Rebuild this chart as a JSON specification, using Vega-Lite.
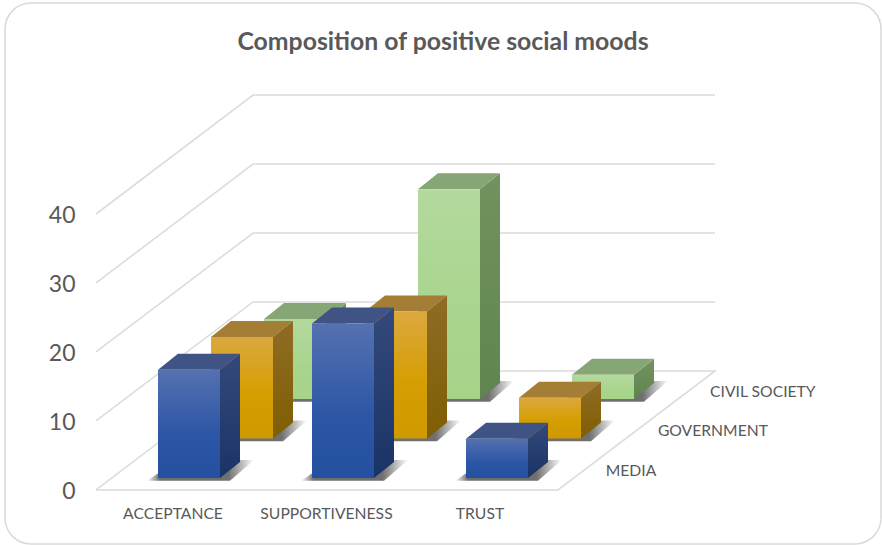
{
"$schema":"https://vega.github.io/schema/vega-lite/v6.json",
"width":876,"height":541,
"padding":{"left":5,"top":3,"right":1,"bottom":1},
"autosize":{"type":"none"},
"background":"#ffffff",
"view":{"stroke":"#d9d9d9","strokeWidth":1.5,"cornerRadius":26,"fill":"#ffffff"},
"title":{"text":"Composition of positive social moods","font":"Lato","fontSize":24.8,"fontWeight":"bold","color":"#595959","anchor":"middle","offset":-52},
"datasets":{
"moods":[
{"category":"ACCEPTANCE","series":"MEDIA","value":15.7},
{"category":"SUPPORTIVENESS","series":"MEDIA","value":22.4},
{"category":"TRUST","series":"MEDIA","value":5.7},
{"category":"ACCEPTANCE","series":"GOVERNMENT","value":14.7},
{"category":"SUPPORTIVENESS","series":"GOVERNMENT","value":18.4},
{"category":"TRUST","series":"GOVERNMENT","value":5.9},
{"category":"ACCEPTANCE","series":"CIVIL SOCIETY","value":11.6},
{"category":"SUPPORTIVENESS","series":"CIVIL SOCIETY","value":30.4},
{"category":"TRUST","series":"CIVIL SOCIETY","value":3.5}
],
"walls":[
{"level":0,"corner":0},{"level":0,"corner":1},{"level":0,"corner":2},{"level":0,"corner":3},{"level":0,"corner":4},
{"level":10,"corner":0},{"level":10,"corner":1},{"level":10,"corner":2},
{"level":20,"corner":0},{"level":20,"corner":1},{"level":20,"corner":2},
{"level":30,"corner":0},{"level":30,"corner":1},{"level":30,"corner":2},
{"level":40,"corner":0},{"level":40,"corner":1},{"level":40,"corner":2}
]
},
"encoding":{
"x":{"field":"px","type":"quantitative","scale":{"domain":[5,881],"nice":false,"zero":false},"axis":null},
"y":{"field":"py","type":"quantitative","scale":{"domain":[-7.83,70.58],"nice":false,"zero":false},
"axis":{"title":null,"values":[0,10,20,30,40],"domain":false,"ticks":false,"grid":false,"orient":"left","labelAlign":"right","labelBaseline":"middle","labelPadding":-70,"labelOffset":2,"labelFont":"Lato","labelFontSize":23,"labelColor":"#595959"}}
},
"layer":[
{"data":{"name":"walls"},
"transform":[
{"calculate":"[96,253,715,558,96][datum.corner]","as":"px"},
{"calculate":"datum.level+[0,119,119,0,0][datum.corner]/6.9","as":"py"}
],
"mark":{"type":"line","stroke":"#dcdcdc","strokeWidth":1.6},
"encoding":{"detail":{"field":"level"},"order":{"field":"corner"}}},
{"data":{"name":"moods"},
"transform":[
{"calculate":"indexof(['ACCEPTANCE','SUPPORTIVENESS','TRUST'],datum.category)","as":"i"},
{"calculate":"indexof(['MEDIA','GOVERNMENT','CIVIL SOCIETY'],datum.series)","as":"s"},
{"calculate":"158+154*datum.i+53*datum.s","as":"sx"},
{"calculate":"(12+39.5*datum.s)/6.9","as":"by"},
{"calculate":"datum.by+datum.value","as":"ty"},
{"calculate":"[0,1]","as":"tt"},
{"flatten":["tt"],"as":["t"]}
],
"layer":[
{"transform":[{"filter":"datum.series==='CIVIL SOCIETY'"}],"layer":[
{"transform":[{"calculate":"datum.sx-11+31*datum.t","as":"px"},{"calculate":"datum.sx+72+24*datum.t","as":"px2"},{"calculate":"datum.by-0.4+3*datum.t","as":"py"}],
"mark":{"type":"area","orient":"horizontal","color":{"gradient":"linear","x1":0,"y1":0,"x2":1,"y2":0,"stops":[{"offset":0,"color":"rgba(50,50,50,0)"},{"offset":0.12,"color":"rgba(50,50,50,0.7)"},{"offset":0.76,"color":"rgba(50,50,50,0.7)"},{"offset":1,"color":"rgba(50,50,50,0)"}]}},
"encoding":{"x2":{"field":"px2"},"detail":{"field":"category"}}},
{"transform":[{"calculate":"datum.sx+62+20*datum.t","as":"px"},{"calculate":"datum.by+2.32*datum.t","as":"py"},{"calculate":"datum.ty+2.32*datum.t","as":"py2"}],
"mark":{"type":"area","orient":"vertical","color":{"gradient":"linear","x1":0,"y1":0,"x2":0,"y2":1,"stops":[{"offset":0,"color":"#72925f"},{"offset":1,"color":"#5f8550"}]}},
"encoding":{"y2":{"field":"py2"},"detail":{"field":"category"}}},
{"transform":[{"calculate":"datum.sx+20*datum.t","as":"px"},{"calculate":"datum.sx+62+20*datum.t","as":"px2"},{"calculate":"datum.ty+2.32*datum.t","as":"py"}],
"mark":{"type":"area","orient":"horizontal","color":"#86a676"},
"encoding":{"x2":{"field":"px2"},"detail":{"field":"category"}}},
{"transform":[{"filter":"datum.t===0"},{"calculate":"datum.sx","as":"px"},{"calculate":"datum.sx+62","as":"px2"},{"calculate":"datum.ty","as":"py"},{"calculate":"datum.by","as":"py2"}],
"mark":{"type":"rect","color":{"gradient":"linear","x1":0,"y1":0,"x2":0,"y2":1,"stops":[{"offset":0,"color":"#b4d99e"},{"offset":0.6,"color":"#a8d58d"},{"offset":1,"color":"#a5d489"}]}},
"encoding":{"x2":{"field":"px2"},"y2":{"field":"py2"}}}
]},
{"transform":[{"filter":"datum.series==='GOVERNMENT'"}],"layer":[
{"transform":[{"calculate":"datum.sx-11+31*datum.t","as":"px"},{"calculate":"datum.sx+72+24*datum.t","as":"px2"},{"calculate":"datum.by-0.4+3*datum.t","as":"py"}],
"mark":{"type":"area","orient":"horizontal","color":{"gradient":"linear","x1":0,"y1":0,"x2":1,"y2":0,"stops":[{"offset":0,"color":"rgba(50,50,50,0)"},{"offset":0.12,"color":"rgba(50,50,50,0.7)"},{"offset":0.76,"color":"rgba(50,50,50,0.7)"},{"offset":1,"color":"rgba(50,50,50,0)"}]}},
"encoding":{"x2":{"field":"px2"},"detail":{"field":"category"}}},
{"transform":[{"calculate":"datum.sx+62+20*datum.t","as":"px"},{"calculate":"datum.by+2.32*datum.t","as":"py"},{"calculate":"datum.ty+2.32*datum.t","as":"py2"}],
"mark":{"type":"area","orient":"vertical","color":{"gradient":"linear","x1":0,"y1":0,"x2":0,"y2":1,"stops":[{"offset":0,"color":"#8f6c26"},{"offset":1,"color":"#7f5e02"}]}},
"encoding":{"y2":{"field":"py2"},"detail":{"field":"category"}}},
{"transform":[{"calculate":"datum.sx+20*datum.t","as":"px"},{"calculate":"datum.sx+62+20*datum.t","as":"px2"},{"calculate":"datum.ty+2.32*datum.t","as":"py"}],
"mark":{"type":"area","orient":"horizontal","color":"#a47e35"},
"encoding":{"x2":{"field":"px2"},"detail":{"field":"category"}}},
{"transform":[{"filter":"datum.t===0"},{"calculate":"datum.sx","as":"px"},{"calculate":"datum.sx+62","as":"px2"},{"calculate":"datum.ty","as":"py"},{"calculate":"datum.by","as":"py2"}],
"mark":{"type":"rect","color":{"gradient":"linear","x1":0,"y1":0,"x2":0,"y2":1,"stops":[{"offset":0,"color":"#dba83f"},{"offset":0.55,"color":"#d59f02"},{"offset":1,"color":"#cf9900"}]}},
"encoding":{"x2":{"field":"px2"},"y2":{"field":"py2"}}}
]},
{"transform":[{"filter":"datum.series==='MEDIA'"}],"layer":[
{"transform":[{"calculate":"datum.sx-11+31*datum.t","as":"px"},{"calculate":"datum.sx+72+24*datum.t","as":"px2"},{"calculate":"datum.by-0.4+3*datum.t","as":"py"}],
"mark":{"type":"area","orient":"horizontal","color":{"gradient":"linear","x1":0,"y1":0,"x2":1,"y2":0,"stops":[{"offset":0,"color":"rgba(50,50,50,0)"},{"offset":0.12,"color":"rgba(50,50,50,0.7)"},{"offset":0.76,"color":"rgba(50,50,50,0.7)"},{"offset":1,"color":"rgba(50,50,50,0)"}]}},
"encoding":{"x2":{"field":"px2"},"detail":{"field":"category"}}},
{"transform":[{"calculate":"datum.sx+62+20*datum.t","as":"px"},{"calculate":"datum.by+2.32*datum.t","as":"py"},{"calculate":"datum.ty+2.32*datum.t","as":"py2"}],
"mark":{"type":"area","orient":"vertical","color":{"gradient":"linear","x1":0,"y1":0,"x2":0,"y2":1,"stops":[{"offset":0,"color":"#34497b"},{"offset":1,"color":"#1a3367"}]}},
"encoding":{"y2":{"field":"py2"},"detail":{"field":"category"}}},
{"transform":[{"calculate":"datum.sx+20*datum.t","as":"px"},{"calculate":"datum.sx+62+20*datum.t","as":"px2"},{"calculate":"datum.ty+2.32*datum.t","as":"py"}],
"mark":{"type":"area","orient":"horizontal","color":"#3f5384"},
"encoding":{"x2":{"field":"px2"},"detail":{"field":"category"}}},
{"transform":[{"filter":"datum.t===0"},{"calculate":"datum.sx","as":"px"},{"calculate":"datum.sx+62","as":"px2"},{"calculate":"datum.ty","as":"py"},{"calculate":"datum.by","as":"py2"}],
"mark":{"type":"rect","color":{"gradient":"linear","x1":0,"y1":0,"x2":0,"y2":1,"stops":[{"offset":0,"color":"#5571b0"},{"offset":0.6,"color":"#2c56a6"},{"offset":1,"color":"#23509f"}]}},
"encoding":{"x2":{"field":"px2"},"y2":{"field":"py2"}}}
]}
]},
{"data":{"name":"moods"},
"transform":[
{"aggregate":[{"op":"count","as":"n"}],"groupby":["category"]},
{"calculate":"173+153.5*indexof(['ACCEPTANCE','SUPPORTIVENESS','TRUST'],datum.category)","as":"px"},
{"calculate":"-3.33","as":"py"}
],
"mark":{"type":"text","font":"Lato","fontSize":15.7,"color":"#595959","align":"center","baseline":"middle","dy":1},
"encoding":{"text":{"field":"category"}}},
{"data":{"name":"moods"},
"transform":[
{"aggregate":[{"op":"count","as":"n"}],"groupby":["series"]},
{"calculate":"indexof(['MEDIA','GOVERNMENT','CIVIL SOCIETY'],datum.series)","as":"s"},
{"calculate":"605.7+52.2*datum.s","as":"px"},
{"calculate":"(20+39.5*datum.s)/6.9","as":"py"}
],
"mark":{"type":"text","font":"Lato","fontSize":15.7,"color":"#595959","align":"left","baseline":"middle","dy":1},
"encoding":{"text":{"field":"series"}}}
]
}
